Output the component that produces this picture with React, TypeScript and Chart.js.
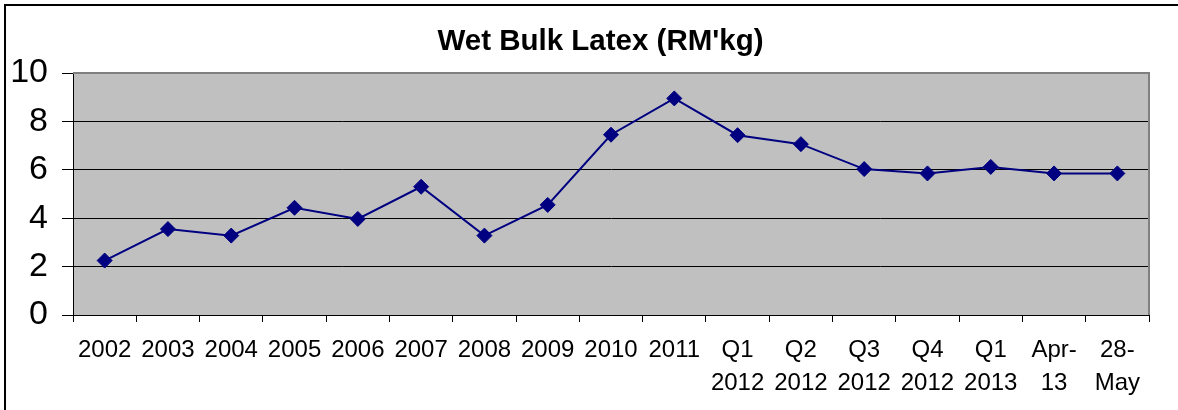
import React, { useEffect, useRef } from 'react';
import { Chart, registerables } from 'chart.js';

Chart.register(...registerables);

const titleText = "Wet Bulk Latex (RM'kg)";
const categories: (string | string[])[] = [
  '2002', '2003', '2004', '2005', '2006', '2007', '2008', '2009', '2010', '2011',
  ['Q1', '2012'], ['Q2', '2012'], ['Q3', '2012'], ['Q4', '2012'], ['Q1', '2013'],
  ['Apr-', '13'], ['28-', 'May'],
];
const prices = [
  2.25, 3.55, 3.28, 4.43, 3.97, 5.3, 3.28, 4.55, 7.45, 8.95,
  7.43, 7.06, 6.03, 5.85, 6.12, 5.85, 5.85,
];
const yMin = 0;
const yMax = 10;
const yStep = 2;

const FONT = "Arial, 'Liberation Sans', sans-serif";

const framePlugin = {
  id: 'framePlugin',
  beforeDraw(chart: any) {
    const { ctx, chartArea } = chart;
    const { left, top, right, bottom } = chartArea;
    ctx.save();
    ctx.fillStyle = '#ffffff';
    ctx.fillRect(0, 0, chart.width, chart.height);
    ctx.strokeStyle = '#000000';
    ctx.lineWidth = 2;
    ctx.strokeRect(5, 5, chart.width + 20, chart.height + 20);
    ctx.fillStyle = '#C0C0C0';
    ctx.fillRect(left, top, right - left, bottom - top);
    // title
    ctx.fillStyle = '#000000';
    ctx.font = `bold 29.5px ${FONT}`;
    ctx.textAlign = 'center';
    ctx.textBaseline = 'alphabetic';
    ctx.fillText(titleText, 600.5, 50);
    ctx.restore();
  },
  beforeDatasetsDraw(chart: any) {
    const { ctx, chartArea } = chart;
    const { left, top, right, bottom } = chartArea;
    ctx.save();
    ctx.strokeStyle = '#808080';
    ctx.lineWidth = 2;
    ctx.beginPath();
    ctx.moveTo(left, top);
    ctx.lineTo(right, top);
    ctx.lineTo(right, bottom);
    ctx.stroke();
    ctx.restore();
  },
};

export default function App() {
  const canvasRef = useRef<HTMLCanvasElement | null>(null);

  useEffect(() => {
    if (!canvasRef.current) return;
    const chart = new Chart(canvasRef.current, {
      type: 'line',
      data: {
        labels: categories as any,
        datasets: [
          {
            data: prices,
            borderColor: '#000080',
            borderWidth: 2,
            backgroundColor: '#000080',
            pointStyle: 'rectRot',
            pointRadius: 7.5,
            pointHoverRadius: 7.5,
            pointBackgroundColor: '#000080',
            pointBorderColor: '#000080',
            pointBorderWidth: 1,
            tension: 0,
            fill: false,
          },
        ],
      },
      options: {
        responsive: false,
        animation: false,
        devicePixelRatio: 1,
        layout: { padding: { left: 0, right: 29, top: 73, bottom: 0 } },
        plugins: {
          legend: { display: false },
          tooltip: { enabled: false },
          title: { display: false },
        },
        scales: {
          x: {
            offset: true,
            grid: {
              display: true,
              drawOnChartArea: false,
              offset: true,
              tickLength: 7,
              color: '#000000',
              tickColor: '#000000',
            },
            border: { display: true, color: '#000000', width: 1 },
            ticks: {
              color: '#000000',
              font: { family: FONT, size: 24, lineHeight: 1.375 },
              padding: 12,
              autoSkip: false,
              maxRotation: 0,
              minRotation: 0,
            },
            afterFit(scale: any) {
              scale.height = 95;
            },
          },
          y: {
            min: yMin,
            max: yMax,
            grid: {
              color: (c: any) => (c.tick && c.tick.value === yMax ? 'rgba(0,0,0,0)' : '#000000'),
              tickColor: '#000000',
              tickLength: 11,
              lineWidth: 1,
            },
            border: { display: true, color: '#000000', width: 1 },
            ticks: {
              stepSize: yStep,
              color: '#000000',
              font: { family: FONT, size: 34 },
              padding: 14,
            },
            afterFit(scale: any) {
              scale.width = 73;
            },
          },
        },
      },
      plugins: [framePlugin],
    } as any);
    return () => chart.destroy();
  }, []);

  return (
    <div style={{ position: 'fixed', left: 0, top: 0, width: 1178, height: 410, background: '#fff' }}>
      <canvas ref={canvasRef} width={1178} height={410} style={{ width: 1178, height: 410, display: 'block' }} />
    </div>
  );
}
